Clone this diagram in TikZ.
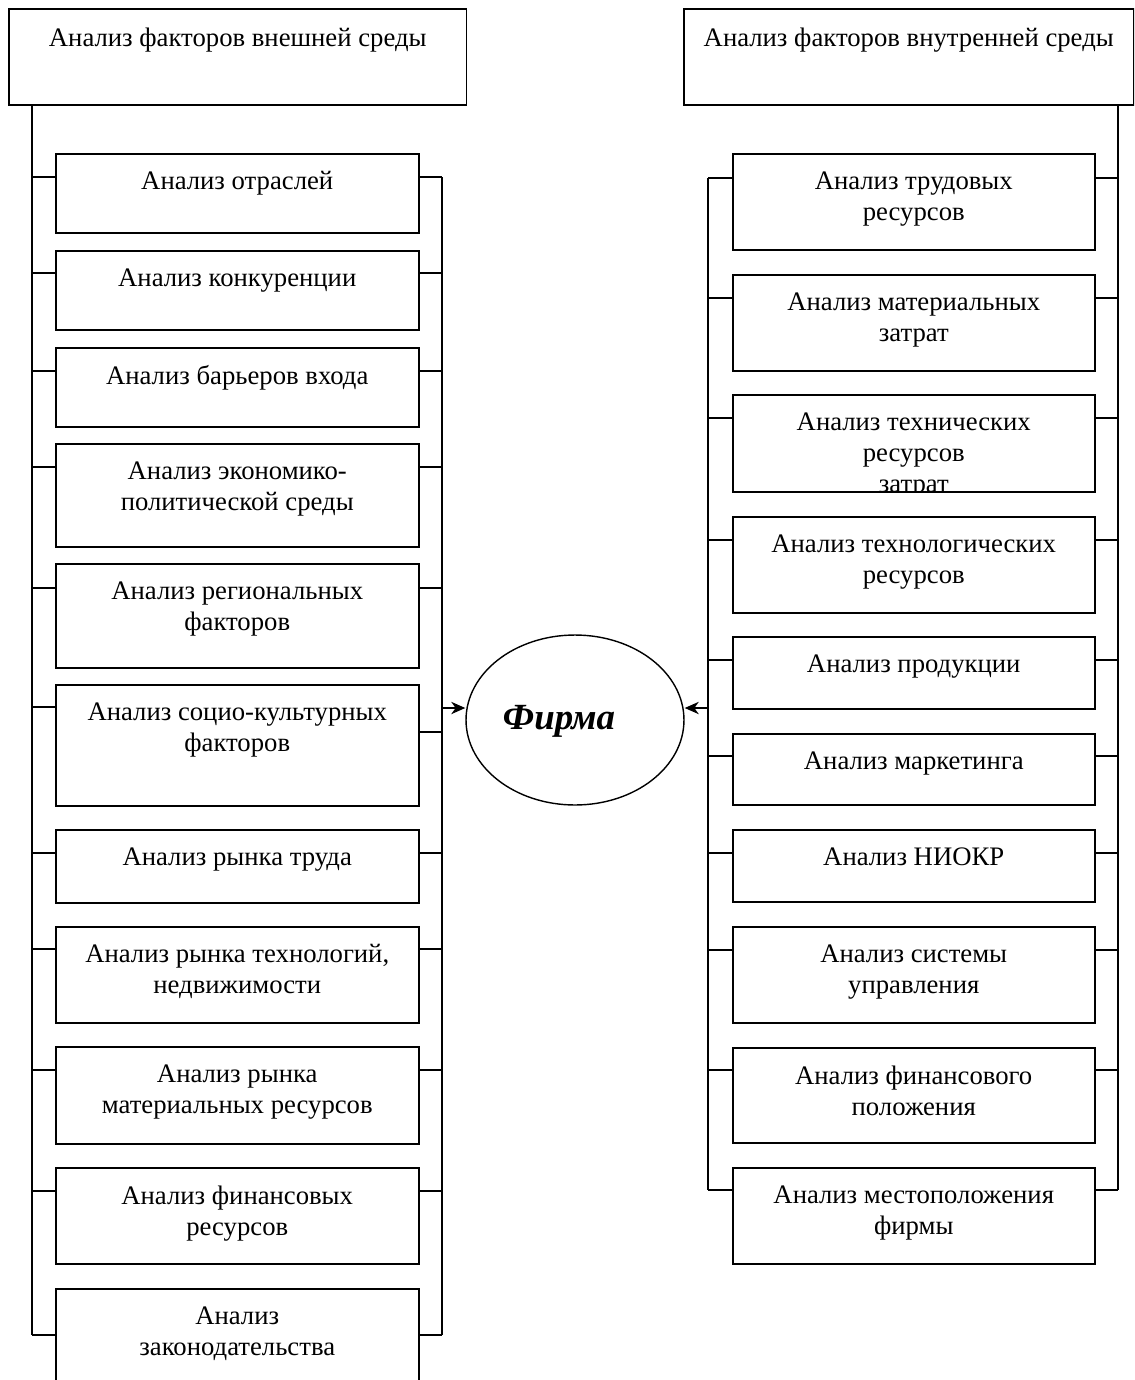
\documentclass[tikz,border=0pt]{standalone}
\usepackage{fontspec}
\setmainfont{Liberation Serif}
\usetikzlibrary{arrows.meta,positioning,shapes.geometric,calc}

\tikzset{
  box/.style={draw, line width=0.9pt, anchor=north west, inner sep=0pt},
  txt/.style={anchor=north, align=center, inner sep=0pt, font=\fontsize{15.2}{17.6}\selectfont},
  link/.style={line width=0.9pt},
  arr/.style={line width=0.9pt, -{Stealth[length=8pt,width=7pt,inset=2.5pt]}},
}

\begin{document}
\begin{tikzpicture}[x=0.02cm, y=-0.02cm]
        \clip (0,0) rectangle (1134,1380);
        % headers
        \node[box, minimum width=9.16cm, minimum height=1.92cm] (hl) at (8,8) {};
        \node[txt] at ([yshift=-0.387cm]hl.north) {Анализ факторов внешней среды};
        \node[box, minimum width=9.0cm, minimum height=1.92cm] (hr) at (683,8) {};
        \node[txt] at ([yshift=-0.387cm]hr.north) {Анализ факторов внутренней среды};

        % external factors
        \foreach \n/\t/\h/\k/\r/\txt in {1/153/1.58/177/177/{Анализ отраслей},
            2/250/1.58/273/273/{Анализ конкуренции},
            3/347/1.58/371/371/{Анализ барьеров входа},
            4/443/2.06/467/467/{Анализ экономико-\\политической среды},
            5/563/2.08/588/588/{Анализ региональных\\факторов},
            6/684/2.42/707/732/{Анализ социо-культурных\\факторов},
            7/829/1.46/853/853/{Анализ рынка труда},
            8/926/1.92/949/949/{Анализ рынка технологий,\\недвижимости},
            9/1046/1.94/1070/1070/{Анализ рынка\\материальных ресурсов},
            10/1167/1.92/1191/1191/{Анализ финансовых\\ресурсов},
            11/1288/2.4/1335/1335/{Анализ\\законодательства}} {
          \node[box, minimum width=7.26cm, minimum height=\h cm] (e\n) at (55,\t) {};
          \begin{scope}
            \clip (e\n.north west) rectangle (e\n.south east);
            \node[txt] at ([yshift=-0.365cm]e\n.north) {\txt};
          \end{scope}
          \coordinate (el\n) at (32,\k);
          \coordinate (er\n) at (442,\r);
          \draw[link] (el\n) -- (el\n -| e\n.west);
          \draw[link] (er\n) -- (er\n -| e\n.east);
        }
        \draw[link] (hl.south -| el1) -- (el11);
        \draw[link] (er1) -- (er11);

        % internal factors
        \foreach \n/\t/\h/\k/\txt in {1/153/1.92/178/{Анализ трудовых\\ресурсов},
            2/274/1.92/298/{Анализ материальных\\затрат},
            3/394/1.94/418/{Анализ технических\\ресурсов\\затрат},
            4/516/1.92/540/{Анализ технологических\\ресурсов},
            5/636/1.44/660/{Анализ продукции},
            6/733/1.42/756/{Анализ маркетинга},
            7/829/1.44/853/{Анализ НИОКР},
            8/926/1.92/950/{Анализ системы\\управления},
            9/1047/1.90/1070/{Анализ финансового\\положения},
            10/1167/1.92/1190/{Анализ местоположения\\фирмы}} {
          \node[box, minimum width=7.24cm, minimum height=\h cm] (i\n) at (732,\t) {};
          \begin{scope}
            \clip (i\n.north west) rectangle (i\n.south east);
            \node[txt] at ([yshift=-0.365cm]i\n.north) {\txt};
          \end{scope}
          \coordinate (il\n) at (708,\k);
          \coordinate (ir\n) at (1118,\k);
          \draw[link] (il\n) -- (il\n -| i\n.west);
          \draw[link] (ir\n) -- (ir\n -| i\n.east);
        }
        \draw[link] (il1) -- (il10);
        \draw[link] (hr.south -| ir1) -- (ir10);

        % firm
        \node[ellipse, draw, line width=0.8pt, minimum width=4.36cm, minimum height=3.4cm] (firm) at (575,720) {};
        \node[font=\fontsize{21}{25}\selectfont\bfseries\itshape] (firmtxt) at ([xshift=-0.32cm,yshift=-0.02cm]firm.center) {Фирма};
        \coordinate (al) at (442,708);
        \coordinate (ar) at (708,708);
        \draw[arr] (al) -- (al -| firm.west);
        \draw[arr] (ar) -- (ar -| firm.east);
      \end{tikzpicture}
\end{document}
